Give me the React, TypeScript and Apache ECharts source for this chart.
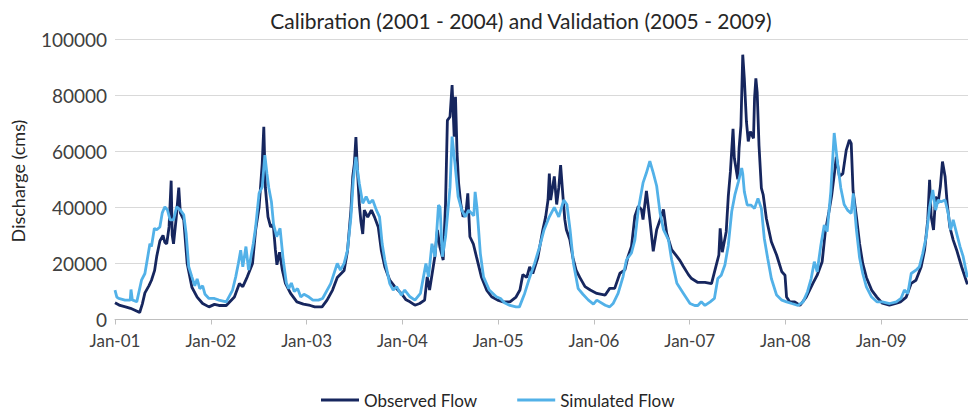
import React, { useEffect, useRef } from 'react';
import * as echarts from 'echarts';

const chartTitle = 'Calibration (2001 - 2004) and Validation (2005 - 2009)';
const yAxisTitle = 'Discharge (cms)';
const seriesNames = ['Observed Flow', 'Simulated Flow'];
const xTickYears = [2001, 2002, 2003, 2004, 2005, 2006, 2007, 2008, 2009];

const observedDates = [
  '2001-01-01','2001-01-20','2001-02-10','2001-03-01','2001-03-20','2001-04-05','2001-04-15','2001-04-25','2001-05-10','2001-05-20','2001-06-01','2001-06-09','2001-06-21','2001-07-03','2001-07-10','2001-07-17','2001-07-26','2001-08-03','2001-08-07','2001-08-12','2001-08-22','2001-09-01','2001-09-07','2001-09-20','2001-10-03','2001-10-21','2001-11-10','2001-12-01','2001-12-25',
  '2002-01-15','2002-02-01','2002-03-01','2002-04-01','2002-04-20','2002-05-03','2002-05-20','2002-06-09','2002-06-21','2002-07-04','2002-07-16','2002-07-22','2002-07-28','2002-08-07','2002-08-17','2002-08-27','2002-09-04','2002-09-10','2002-09-20','2002-10-01','2002-10-12','2002-11-01','2002-11-25','2002-12-20',
  '2003-01-15','2003-02-01','2003-03-01','2003-03-20','2003-04-10','2003-04-28','2003-05-24','2003-06-06','2003-06-19','2003-06-26','2003-07-02','2003-07-08','2003-07-14','2003-07-21','2003-07-27','2003-08-03','2003-08-09','2003-08-22','2003-09-05','2003-09-17','2003-10-01','2003-10-13','2003-10-26','2003-11-14','2003-12-03','2003-12-28',
  '2004-01-15','2004-01-30','2004-02-18','2004-03-07','2004-03-26','2004-04-05','2004-04-14','2004-05-04','2004-05-14','2004-05-23','2004-06-05','2004-06-14','2004-06-21','2004-07-01','2004-07-09','2004-07-17','2004-07-22','2004-07-28','2004-08-03','2004-08-11','2004-08-20','2004-09-01','2004-09-07','2004-09-15','2004-09-28','2004-10-10','2004-10-29','2004-11-18','2004-12-07','2004-12-30',
  '2005-01-20','2005-02-15','2005-03-10','2005-03-25','2005-04-05','2005-04-20','2005-05-01','2005-05-13','2005-06-01','2005-06-20','2005-07-01','2005-07-10','2005-07-15','2005-07-20','2005-08-03','2005-08-12','2005-08-20','2005-08-27','2005-09-05','2005-09-12','2005-09-18','2005-10-01','2005-10-13','2005-10-25','2005-11-08','2005-11-28','2005-12-18',
  '2006-01-12','2006-02-13','2006-03-02','2006-03-21','2006-04-10','2006-04-29','2006-05-11','2006-05-24','2006-06-06','2006-06-19','2006-07-01','2006-07-07','2006-07-20','2006-08-02','2006-08-15','2006-08-28','2006-09-10','2006-09-23','2006-10-05','2006-10-24','2006-11-13','2006-11-25','2006-12-08','2006-12-27',
  '2007-01-08','2007-02-01','2007-02-28','2007-03-25','2007-04-12','2007-04-22','2007-04-27','2007-05-05','2007-05-20','2007-05-28','2007-06-05','2007-06-15','2007-06-20','2007-07-03','2007-07-08','2007-07-15','2007-07-22','2007-07-28','2007-08-05','2007-08-12','2007-08-20','2007-09-01','2007-09-05','2007-09-10','2007-09-15','2007-09-22','2007-10-01','2007-10-08','2007-10-20','2007-11-08','2007-11-28','2007-12-18','2007-12-30',
  '2008-01-05','2008-01-17','2008-02-05','2008-02-25','2008-03-20','2008-04-15','2008-05-01','2008-05-20','2008-06-01','2008-06-15','2008-06-25','2008-07-07','2008-07-13','2008-07-25','2008-08-07','2008-08-20','2008-09-01','2008-09-08','2008-09-15','2008-09-28','2008-10-10','2008-10-22','2008-11-05','2008-11-25','2008-12-15',
  '2009-01-05','2009-02-01','2009-02-25','2009-03-15','2009-04-06','2009-04-25','2009-05-13','2009-06-02','2009-06-15','2009-06-27','2009-07-04','2009-07-10','2009-07-19','2009-07-27','2009-08-05','2009-08-14','2009-08-22','2009-09-01','2009-09-09','2009-09-19','2009-10-02','2009-10-15','2009-11-03','2009-11-25',
];
const observedFlow = [
  6000,5000,4500,4000,3200,2500,5500,9500,12000,14000,17500,22500,28000,30000,27500,27000,33000,49500,30000,27000,36000,47000,38000,35500,20000,11500,8000,5700,4500,
  5400,5000,5000,8000,12800,11700,15200,20000,32000,40000,55600,68700,47000,36600,33000,34000,25000,19500,24000,17500,13000,9300,6300,5500,
  5000,4500,4500,6900,10500,15000,17500,24500,39000,51000,55500,65000,53000,41000,35000,30500,39000,36500,39000,36500,33000,24500,18800,14000,11700,9300,
  7000,6300,5100,5700,6900,15200,10500,22400,31900,26000,21200,41400,71000,72300,83600,65200,79400,59200,48500,41400,36600,39000,45000,29500,27000,22400,15200,10500,8100,6900,
  6300,6300,8000,10500,16000,15000,18800,16400,22000,31900,36600,42600,52000,42600,51000,41000,47000,55000,43800,35600,32000,28500,22000,17600,15000,11700,10500,
  9300,8700,11100,11100,16500,17700,22500,26000,36800,40400,39200,35600,45800,35600,24300,32000,35600,39200,30800,24900,22500,21000,18900,16000,
  14600,13200,13200,12800,19400,23000,32500,24000,31300,44000,52700,68000,57500,50000,61000,69000,94400,86000,70600,63500,67000,64600,79000,86000,81000,62000,46800,44400,36000,27700,23000,17000,15800,
  8000,6300,6300,5000,8000,13000,15800,20600,31300,38500,44000,53000,58000,51000,52000,60400,64000,62800,46000,36600,27000,20000,15000,10500,8000,
  5800,5100,5700,6300,8000,12900,14000,18800,24800,35500,49800,36700,31900,43800,41400,47400,56300,51000,41400,33000,28300,24800,18800,12500,
];

const simulatedDates = [
  '2001-01-01','2001-01-08','2001-01-15','2001-02-08','2001-02-28','2001-03-03','2001-03-08','2001-03-25','2001-04-12','2001-04-25','2001-05-08','2001-05-14','2001-05-20','2001-05-31','2001-06-09','2001-06-21','2001-06-30','2001-07-10','2001-07-20','2001-07-30','2001-08-12','2001-08-24','2001-09-07','2001-09-20','2001-09-29','2001-10-09','2001-10-21','2001-11-01','2001-11-10','2001-11-20','2001-12-01','2001-12-10','2001-12-25',
  '2002-01-15','2002-02-01','2002-03-01','2002-03-25','2002-04-06','2002-04-16','2002-04-25','2002-05-03','2002-05-15','2002-05-25','2002-06-03','2002-06-12','2002-06-21','2002-07-04','2002-07-16','2002-07-26','2002-08-03','2002-08-10','2002-08-20','2002-08-28','2002-09-09','2002-09-22','2002-10-04','2002-10-16','2002-10-25','2002-11-04','2002-11-15','2002-11-28','2002-12-10','2002-12-22',
  '2003-01-10','2003-01-25','2003-02-15','2003-03-03','2003-04-03','2003-04-28','2003-05-10','2003-05-24','2003-06-06','2003-06-19','2003-06-28','2003-07-08','2003-07-14','2003-07-21','2003-08-03','2003-08-16','2003-08-28','2003-09-10','2003-09-24','2003-10-06','2003-10-16','2003-10-26','2003-11-14','2003-11-27','2003-12-10','2003-12-28',
  '2004-01-10','2004-01-30','2004-02-18','2004-03-10','2004-03-31','2004-04-10','2004-04-23','2004-05-05','2004-05-18','2004-05-24','2004-06-02','2004-06-14','2004-07-01','2004-07-09','2004-07-20','2004-08-01','2004-08-15','2004-08-28','2004-09-10','2004-09-30','2004-10-05','2004-10-12','2004-10-25','2004-11-06','2004-11-28','2004-12-25',
  '2005-01-10','2005-01-25','2005-02-15','2005-03-10','2005-03-23','2005-04-12','2005-05-01','2005-05-20','2005-06-08','2005-06-25','2005-07-15','2005-08-03','2005-08-20','2005-09-08','2005-09-20','2005-10-02','2005-10-15','2005-11-02','2005-11-20','2005-12-10','2005-12-30',
  '2006-01-12','2006-02-13','2006-03-02','2006-03-15','2006-04-03','2006-04-22','2006-05-05','2006-05-24','2006-06-06','2006-06-19','2006-07-07','2006-07-20','2006-08-02','2006-08-15','2006-08-28','2006-09-10','2006-09-23','2006-10-12','2006-10-24','2006-11-13','2006-12-08',
  '2007-01-02','2007-01-20','2007-02-01','2007-02-14','2007-02-28','2007-03-20','2007-04-05','2007-04-18','2007-05-01','2007-05-15','2007-05-28','2007-06-10','2007-06-22','2007-07-05','2007-07-18','2007-07-22','2007-07-28','2007-08-08','2007-08-22','2007-09-05','2007-09-18','2007-10-01','2007-10-12','2007-10-25','2007-11-08','2007-11-28','2007-12-18',
  '2008-01-05','2008-01-25','2008-02-18','2008-03-08','2008-03-25','2008-04-08','2008-04-20','2008-05-01','2008-05-15','2008-05-28','2008-06-08','2008-06-22','2008-07-05','2008-07-18','2008-07-30','2008-08-12','2008-08-25','2008-09-08','2008-09-16','2008-09-28','2008-10-10','2008-10-22','2008-11-05','2008-11-25','2008-12-15',
  '2009-01-05','2009-02-02','2009-02-27','2009-03-17','2009-03-30','2009-04-12','2009-04-25','2009-05-13','2009-05-26','2009-06-08','2009-06-21','2009-07-04','2009-07-16','2009-07-27','2009-08-05','2009-08-17','2009-09-01','2009-09-13','2009-09-22','2009-10-02','2009-10-15','2009-10-28','2009-11-09','2009-11-25',
];
const simulatedFlow = [
  10500,8000,7500,6900,6900,10700,7000,6300,14000,16400,23600,27000,26000,32500,32000,33000,38000,40200,39000,35500,35500,40200,39000,37300,30700,18800,15200,12000,14500,11000,12000,9000,7500,
  7500,6900,6300,10500,15200,20000,24700,18800,26000,17600,22400,27100,33000,45000,47300,58600,52000,47000,42000,34000,29500,32500,21200,13000,11000,13000,10000,11000,8000,9000,
  8000,6900,6900,7500,12800,20000,17600,20000,24700,36600,49700,58000,53300,48500,41400,43800,41400,42600,39000,36600,27000,21200,12800,10500,11700,8700,
  10500,8100,6900,9300,20000,15200,27000,22400,40800,40000,22400,29500,47000,65200,55600,43800,39000,36600,39000,37000,45500,40000,23500,15200,10500,8100,
  7500,6000,5000,4500,4500,9300,15000,20000,26000,32000,36600,40000,36600,42600,41000,32000,20000,11000,9000,7000,5500,
  6900,5100,4500,5700,9300,15300,21300,23700,28400,39200,48700,52300,56500,52300,47600,38000,32000,28400,21300,12900,9300,
  5700,5000,5000,6300,5000,6300,7500,14600,15800,19400,26500,38500,44400,49000,54000,52000,45600,40800,40800,39600,43200,39600,29000,21800,14600,8700,6900,
  6300,5700,5000,6300,9900,14600,20600,17000,26500,33700,31300,45600,66500,55600,47000,41000,39000,37800,45000,31900,22000,16400,11600,8000,6300,
  6300,5700,6300,7500,10500,9300,16400,17600,18800,23600,29500,40000,46200,39000,42600,42000,42600,37800,31900,35500,30700,26000,22400,15000,
];

const FONT = 'Lato, "Open Sans", sans-serif';
const OBS_COLOR = '#16265e';
const SIM_COLOR = '#52b1e8';

function toYear(d: string): number {
  const [y, m, day] = d.split('-').map(Number);
  const start = Date.UTC(y, 0, 1);
  const end = Date.UTC(y + 1, 0, 1);
  return y + (Date.UTC(y, m - 1, day) - start) / (end - start);
}

export default function App() {
  const ref = useRef<HTMLDivElement>(null);
  useEffect(() => {
    document.body.style.margin = '0';
    if (!ref.current) return;
    const chart = echarts.init(ref.current, undefined, { renderer: 'svg' });
    const obsData = observedDates.map((d, i) => [toYear(d), observedFlow[i]]);
    const simData = simulatedDates.map((d, i) => [toYear(d), simulatedFlow[i]]);
    chart.setOption({
      animation: false,
      backgroundColor: '#ffffff',
      textStyle: { fontFamily: FONT },
      title: {
        text: chartTitle,
        left: 516,
        textAlign: 'center',
        top: 5,
        textStyle: { fontFamily: FONT, fontSize: 21, fontWeight: 'normal', color: '#262626' },
      },
      legend: {
        data: seriesNames,
        left: 316,
        top: 386,
        icon: 'rect',
        itemWidth: 38,
        itemHeight: 3,
        itemGap: 40,
        textStyle: { fontFamily: FONT, fontSize: 17, lineHeight: 18, color: '#262626' },
      },
      grid: { left: 115, right: 0, top: 39, bottom: 94.5 },
      xAxis: {
        type: 'value',
        min: xTickYears[0],
        max: 2009.905,
        interval: 1,
        axisLine: { lineStyle: { color: '#bfbfbf', width: 1 } },
        axisTick: { show: true, length: 5, lineStyle: { color: '#bfbfbf' } },
        axisLabel: {
          fontFamily: FONT,
          fontSize: 17,
          color: '#404040',
          margin: 12,
          showMaxLabel: false,
          formatter: (v: number) => (xTickYears.includes(v) ? 'Jan-' + String(v).slice(2) : ''),
        },
        splitLine: { show: false },
      },
      yAxis: {
        type: 'value',
        min: 0,
        max: 100000,
        interval: 20000,
        axisLine: { show: false },
        axisTick: { show: false },
        axisLabel: {
          fontFamily: FONT,
          fontSize: 19,
          color: '#404040',
          margin: 8,
          formatter: (v: number) => String(v),
        },
        splitLine: { lineStyle: { color: '#d9d9d9', width: 1 } },
      },
      graphic: [
        {
          type: 'text',
          x: 18,
          y: 181,
          rotation: Math.PI / 2,
          style: {
            text: yAxisTitle,
            fontFamily: FONT,
            fontSize: 18,
            fill: '#262626',
            textAlign: 'center',
            textVerticalAlign: 'middle',
          },
        },
      ],
      series: [
        {
          name: seriesNames[0],
          type: 'line',
          data: obsData,
          showSymbol: false,
          symbol: 'none',
          lineStyle: { color: OBS_COLOR, width: 2.8 },
          itemStyle: { color: OBS_COLOR },
          z: 2,
        },
        {
          name: seriesNames[1],
          type: 'line',
          data: simData,
          showSymbol: false,
          symbol: 'none',
          lineStyle: { color: SIM_COLOR, width: 2.8 },
          itemStyle: { color: SIM_COLOR },
          z: 3,
        },
      ],
    });
    return () => chart.dispose();
  }, []);
  return <div ref={ref} style={{ width: 968, height: 414 }} />;
}
